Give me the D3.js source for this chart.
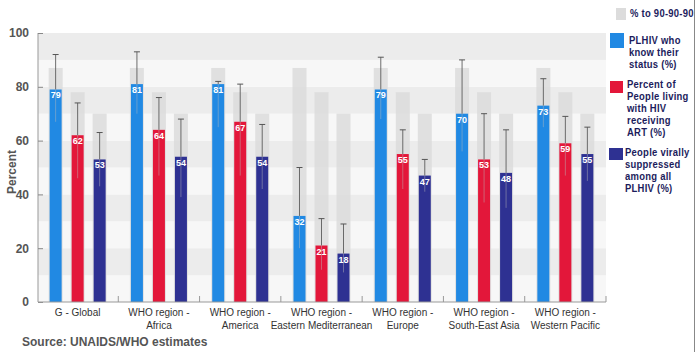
<!DOCTYPE html>
<html>
<head>
<meta charset="utf-8">
<script src="https://cdn.jsdelivr.net/npm/d3@7"></script>
<style>
  body { margin: 0; background: #fff; }
  svg { display: block; font-family: Arial, "Liberation Sans", sans-serif; }
</style>
</head>
<body>
<div id="chart"></div>
<script>
//////////////////////////// data /////////////////////////////////////////

const regions = [
	["G - Global"],
	["WHO region -", "Africa"],
	["WHO region -", "America"],
	["WHO region -", "Eastern Mediterranean"],
	["WHO region -", "Europe"],
	["WHO region -", "South-East Asia"],
	["WHO region -", "Western Pacific"]
];
const series = ["know", "art", "suppressed"];

const knowStatus = [79, 81, 81, 32, 79, 70, 73];
const onArt = [62, 64, 67, 21, 55, 53, 59];
const suppressed = [53, 54, 54, 18, 47, 48, 55];

// confidence bounds [low, high]
const knowCI = [[67, 92], [70, 93], [65, 82], [20, 50], [68, 91], [56, 90], [65, 83]];
const artCI = [[46, 74], [47, 76], [47, 81], [12, 31], [42, 64], [37, 70], [47, 69]];
const supCI = [[43, 63], [39, 68], [42, 66], [11, 29], [41, 53], [35, 64], [45, 65]];

// 90-90-90 targets (grey bars)
const targets = [87, 78, 70];

const yTicks = [0, 20, 40, 60, 80, 100];

const legendItems = [
	{ key: "target", lines: ["% to 90-90-90"] },
	{ key: "know", lines: ["PLHIV who", "know their", "status (%)"] },
	{ key: "art", lines: ["Percent of", "People living", "with HIV", "receiving", "ART (%)"] },
	{ key: "suppressed", lines: ["People virally", "suppressed", "among all", "PLHIV (%)"] }
];

const colors = { target: "#dcdcdc", know: "#2189e3", art: "#e3173a", suppressed: "#2e3192" };

//////////////////////////// set up svg ///////////////////////////////////

const width = 696;
const height = 352;
const margin = { top: 33, right: 90, bottom: 50, left: 38 };

const svg = d3
	.select("#chart")
	.append("svg")
	.attr("width", width)
	.attr("height", height);

const values = { know: knowStatus, art: onArt, suppressed: suppressed };
const cis = { know: knowCI, art: artCI, suppressed: supCI };

//////////////////////////// scales ///////////////////////////////////////

const x0 = d3
	.scaleBand()
	.domain(d3.range(regions.length))
	.range([margin.left - 1, width - margin.right]);

const bw = x0.bandwidth();
const x1 = d3
	.scaleBand()
	.domain(series)
	.range([bw / 2 - 28, bw / 2 + 28])
	.paddingInner(0.455);

const y = d3
	.scaleLinear()
	.domain([0, 100])
	.range([height - margin.bottom, margin.top]);

//////////////////////////// background bands /////////////////////////////

svg
	.selectAll("rect.band")
	.data(d3.range(0, 100, 10))
	.enter()
	.append("rect")
	.attr("class", "band")
	.attr("x", margin.left)
	.attr("width", width - margin.right - margin.left)
	.attr("y", (d) => y(d + 10))
	.attr("height", (d) => y(d) - y(d + 10))
	.attr("fill", (d) => ((d / 10) % 2 === 1 ? "#ececec" : "#f7f7f7"));

//////////////////////////// bars /////////////////////////////////////////

const groups = svg
	.selectAll("g.group")
	.data(regions)
	.enter()
	.append("g")
	.attr("class", "group")
	.attr("transform", (d, i) => `translate(${x0(i)},0)`);

// grey target bars
groups
	.selectAll("rect.target")
	.data(series.map((s, j) => ({ s, v: targets[j] })))
	.enter()
	.append("rect")
	.attr("class", "target")
	.attr("x", (d) => x1(d.s) - 1)
	.attr("width", x1.bandwidth() + 2)
	.attr("y", (d) => y(d.v))
	.attr("height", (d) => y(0) - y(d.v))
	.attr("fill", colors.target)
	.attr("opacity", 0.85);

// value bars
groups
	.selectAll("rect.value")
	.data((d, i) => series.map((s) => ({ s, v: values[s][i], ci: cis[s][i] })))
	.enter()
	.append("rect")
	.attr("class", "value")
	.attr("x", (d) => x1(d.s))
	.attr("width", x1.bandwidth())
	.attr("y", (d) => y(d.v))
	.attr("height", (d) => y(0) - y(d.v))
	.attr("fill", (d) => colors[d.s]);

// error bars
const err = groups
	.selectAll("g.err")
	.data((d, i) => series.map((s) => ({ s, v: values[s][i], ci: cis[s][i] })))
	.enter()
	.append("g")
	.attr("class", "err")
	.attr("stroke", "#555")
	.attr("stroke-width", 1);

err
	.append("line")
	.attr("x1", (d) => x1(d.s) + x1.bandwidth() / 2)
	.attr("x2", (d) => x1(d.s) + x1.bandwidth() / 2)
	.attr("y1", (d) => y(d.ci[1]))
	.attr("y2", (d) => y(d.v))
	.attr("stroke-opacity", 0.85);

err
	.append("line")
	.attr("x1", (d) => x1(d.s) + x1.bandwidth() / 2)
	.attr("x2", (d) => x1(d.s) + x1.bandwidth() / 2)
	.attr("y1", (d) => y(d.v))
	.attr("y2", (d) => y(d.ci[0]))
	.attr("stroke", "#bbb")
	.attr("stroke-opacity", 0.45);

err
	.append("line")
	.attr("x1", (d) => x1(d.s) + x1.bandwidth() / 2 - 3)
	.attr("x2", (d) => x1(d.s) + x1.bandwidth() / 2 + 3)
	.attr("y1", (d) => y(d.ci[1]))
	.attr("y2", (d) => y(d.ci[1]));

// value labels
groups
	.selectAll("text.val")
	.data((d, i) => series.map((s) => ({ s, v: values[s][i] })))
	.enter()
	.append("text")
	.attr("class", "val")
	.attr("x", (d) => x1(d.s) + x1.bandwidth() / 2)
	.attr("y", (d) => y(d.v) + 9)
	.attr("text-anchor", "middle")
	.attr("fill", "#fff")
	.attr("font-size", 9)
	.attr("font-weight", "bold")
	.text((d) => d.v);

//////////////////////////// axes /////////////////////////////////////////

const yAxis = svg
	.append("g")
	.attr("transform", `translate(${margin.left},0)`)
	.call(d3.axisLeft(y).tickValues(yTicks).tickSize(-5).tickPadding(9));

yAxis.select(".domain").attr("stroke", "#999").attr("d", `M0,${y(0)}V${y(100)}`);
yAxis.selectAll(".tick line").attr("stroke", "#888");
yAxis
	.selectAll(".tick text")
	.attr("fill", "#555")
	.attr("font-size", 12)
	.attr("font-weight", "bold")
	.attr("font-family", "Arial, 'Liberation Sans', sans-serif");

svg
	.append("line")
	.attr("x1", margin.left)
	.attr("x2", width - margin.right)
	.attr("y1", y(0))
	.attr("y2", y(0))
	.attr("stroke", "#999");

// group separator ticks
svg
	.selectAll("line.sep")
	.data(d3.range(1, regions.length + 1))
	.enter()
	.append("line")
	.attr("class", "sep")
	.attr("x1", (d) => x0(0) + d * bw)
	.attr("x2", (d) => x0(0) + d * bw)
	.attr("y1", y(0) - 6)
	.attr("y2", y(0))
	.attr("stroke", "#999");

// category labels
const cat = svg
	.selectAll("text.cat")
	.data(regions)
	.enter()
	.append("text")
	.attr("class", "cat")
	.attr("text-anchor", "middle")
	.attr("font-size", 10)
	.attr("fill", "#333")
	.attr("transform", (d, i) => `translate(${x0(i) + bw / 2},${y(0) + 14})`);

cat
	.selectAll("tspan")
	.data((d) => d)
	.enter()
	.append("tspan")
	.attr("x", 0)
	.attr("dy", (d, i) => (i === 0 ? 0 : 13))
	.text((d) => d);

svg
	.append("text")
	.attr("transform", `translate(16,172) rotate(-90)`)
	.attr("text-anchor", "middle")
	.attr("fill", "#555")
	.attr("font-size", 12)
	.attr("font-weight", "bold")
	.text("Percent");

svg
	.append("text")
	.attr("x", 22)
	.attr("y", 346)
	.attr("fill", "#555")
	.attr("font-size", 12)
	.attr("font-weight", "bold")
	.text("Source: UNAIDS/WHO estimates");

//////////////////////////// legend ///////////////////////////////////////

const legendBox = [
	{ x: 616, y: 8, w: 10, h: 12, tx: 630, ty: 17 },
	{ x: 610, y: 33, w: 14, h: 15, tx: 629, ty: 44 },
	{ x: 610, y: 81, w: 13, h: 12, tx: 627, ty: 88 },
	{ x: 609, y: 148, w: 14, h: 12, tx: 625, ty: 156 }
];

const legend = svg
	.selectAll("g.legend")
	.data(legendItems)
	.enter()
	.append("g")
	.attr("class", "legend");

legend
	.append("rect")
	.attr("x", (d, i) => legendBox[i].x)
	.attr("y", (d, i) => legendBox[i].y)
	.attr("width", (d, i) => legendBox[i].w)
	.attr("height", (d, i) => legendBox[i].h)
	.attr("fill", (d) => colors[d.key]);

// narrow-looking legend text: 11px glyphs squeezed horizontally
legend
	.append("text")
	.attr("transform", (d, i) => `translate(${legendBox[i].tx},${legendBox[i].ty}) scale(0.86,1)`)
	.attr("fill", "#1c1c5c")
	.attr("font-size", 11)
	.attr("font-weight", "bold")
	.attr("letter-spacing", 0.3)
	.selectAll("tspan")
	.data((d) => d.lines)
	.enter()
	.append("tspan")
	.attr("x", 0)
	.attr("dy", (d, i) => (i === 0 ? 0 : 12))
	.text((d) => d);

svg
	.append("line")
	.attr("x1", 694.5)
	.attr("x2", 694.5)
	.attr("y1", 0)
	.attr("y2", height)
	.attr("stroke", "#888");
</script>
</body>
</html>
